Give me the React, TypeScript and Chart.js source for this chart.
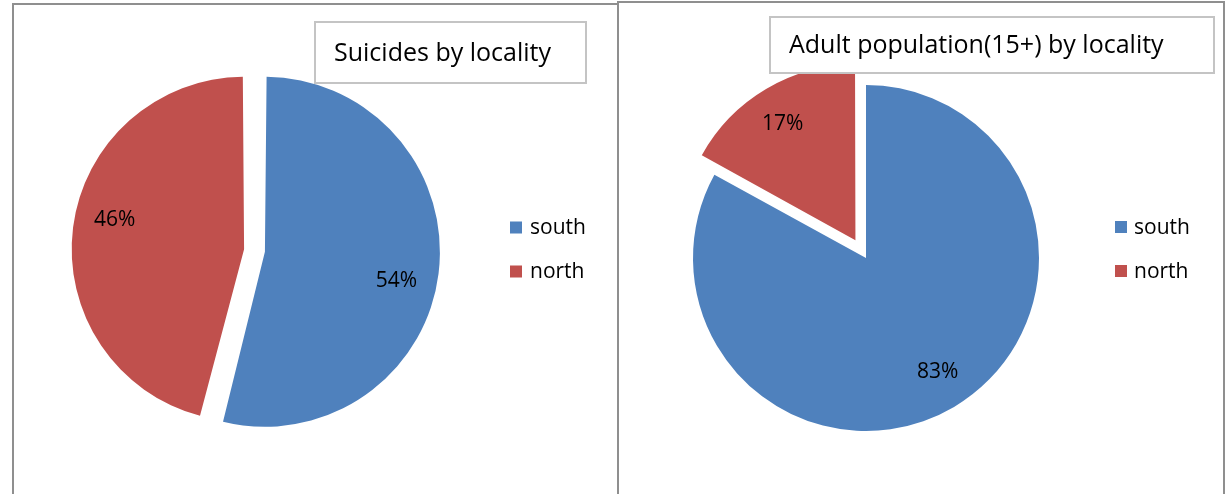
import React, { useEffect, useRef } from 'react';
import { Chart, registerables } from 'chart.js';

Chart.register(...registerables);

// ---- data ----
const categories = ['south', 'north'];
const suicideShares = [54, 46];
const adultShares = [83, 17];
const suicideTitle = 'Suicides by locality';
const adultTitle = 'Adult population(15+) by locality';
const sliceColors = ['#4F81BD', '#C0504D'];

// ---- layout / style ----
const FONT = "'Open Sans', 'Noto Sans', sans-serif";

type Panel = {
  key: string;
  left: number;
  top: number;
  width: number;
  height: number;
  padding: { left: number; top: number; right: number; bottom: number };
  offsets: number[];
  values: number[];
  title: string;
  titleBox: { x: number; y: number; w: number; h: number };
  legend: { sx: number; tx: number; y0: number; dy: number };
  labelShiftDeg: number;
  labelK: number;
};

const panels: Panel[] = [
  {
    key: 'suicides',
    left: 12,
    top: 3,
    width: 607,
    height: 500,
    padding: { left: 57, top: 62, right: 179, bottom: 67 },
    offsets: [42, 42],
    values: suicideShares,
    title: suicideTitle,
    titleBox: { x: 303, y: 19, w: 271, h: 61 },
    legend: { sx: 498, tx: 518, y0: 224.5, dy: 44 },
    labelShiftDeg: 5.5,
    labelK: 0.77,
  },
  {
    key: 'adults',
    left: 617,
    top: 1,
    width: 608,
    height: 510,
    padding: { left: 34.5, top: 42.5, right: 144.5, bottom: 38.5 },
    offsets: [0, 83],
    values: adultShares,
    title: adultTitle,
    titleBox: { x: 153, y: 16, w: 444, h: 56 },
    legend: { sx: 498, tx: 517, y0: 226, dy: 44 },
    labelShiftDeg: -1.5,
    labelK: 0.78,
  },
];

function makePlugin(p: Panel) {
  return {
    id: 'panelDeco_' + p.key,
    beforeDraw(chart: any) {
      const ctx = chart.ctx as CanvasRenderingContext2D;
      ctx.save();
      ctx.fillStyle = '#ffffff';
      ctx.fillRect(0, 0, chart.width, chart.height);
      ctx.strokeStyle = '#8f8f8f';
      ctx.lineWidth = 2;
      ctx.strokeRect(1, 1, chart.width - 2, chart.height + 20);
      ctx.restore();
    },
    afterDatasetsDraw(chart: any) {
      const ctx = chart.ctx as CanvasRenderingContext2D;
      ctx.save();
      // title box
      const b = p.titleBox;
      ctx.fillStyle = '#ffffff';
      ctx.fillRect(b.x, b.y, b.w, b.h);
      ctx.strokeStyle = '#c4c4c4';
      ctx.lineWidth = 2;
      ctx.strokeRect(b.x, b.y, b.w, b.h);
      ctx.fillStyle = '#000000';
      ctx.font = `25px ${FONT}`;
      ctx.textAlign = 'left';
      ctx.textBaseline = 'middle';
      ctx.fillText(p.title, b.x + 19, b.y + b.h / 2 + 1);

      // legend
      const lg = p.legend;
      const labels = chart.data.labels as string[];
      const colors = chart.data.datasets[0].backgroundColor as string[];
      ctx.font = `21px ${FONT}`;
      labels.forEach((lab, i) => {
        const cy = lg.y0 + i * lg.dy;
        ctx.fillStyle = colors[i];
        ctx.fillRect(lg.sx, cy - 6, 12, 12);
        ctx.fillStyle = '#000000';
        ctx.fillText(lab, lg.tx, cy + 1);
      });

      // data labels
      const meta = chart.getDatasetMeta(0);
      const data = chart.data.datasets[0].data as number[];
      ctx.font = `21px ${FONT}`;
      ctx.textAlign = 'center';
      meta.data.forEach((arc: any, i: number) => {
        const { x, y, startAngle, endAngle, outerRadius } = arc.getProps(
          ['x', 'y', 'startAngle', 'endAngle', 'outerRadius'],
          true
        );
        const shift = (arc.options.offset || 0) / 4;
        const circ = endAngle - startAngle;
        const fix = 1 - Math.sin(Math.min(Math.PI, circ));
        const R = outerRadius + shift * fix;
        const mid = (startAngle + endAngle) / 2;
        const la = mid + (p.labelShiftDeg * Math.PI) / 180;
        const lx = x + Math.cos(mid) * shift + Math.cos(la) * R * p.labelK;
        const ly = y + Math.sin(mid) * shift + Math.sin(la) * R * p.labelK;
        ctx.fillStyle = '#000000';
        ctx.fillText(`${data[i]}%`, lx, ly);
      });
      ctx.restore();
    },
  };
}

function PiePanel({ p }: { p: Panel }) {
  const ref = useRef<HTMLCanvasElement | null>(null);
  useEffect(() => {
    if (!ref.current) return;
    const chart = new Chart(ref.current, {
      type: 'pie',
      data: {
        labels: categories,
        datasets: [
          {
            data: p.values,
            backgroundColor: sliceColors,
            borderWidth: 0,
            offset: p.offsets,
            hoverOffset: 0,
          } as any,
        ],
      },
      options: {
        responsive: false,
        animation: false,
        devicePixelRatio: 1,
        events: [],
        layout: { padding: p.padding },
        plugins: {
          legend: { display: false },
          title: { display: false },
          tooltip: { enabled: false },
        },
      } as any,
      plugins: [makePlugin(p)],
    });
    return () => chart.destroy();
  }, [p]);
  return (
    <canvas
      ref={ref}
      width={p.width}
      height={p.height}
      style={{
        position: 'absolute',
        left: p.left,
        top: p.top,
        width: p.width,
        height: p.height,
        display: 'block',
      }}
    />
  );
}

export default function App() {
  return (
    <div
      style={{
        position: 'absolute',
        left: 0,
        top: 0,
        width: 1227,
        height: 494,
        overflow: 'hidden',
        background: '#ffffff',
      }}
    >
      {panels.map((p) => (
        <PiePanel key={p.key} p={p} />
      ))}
    </div>
  );
}
